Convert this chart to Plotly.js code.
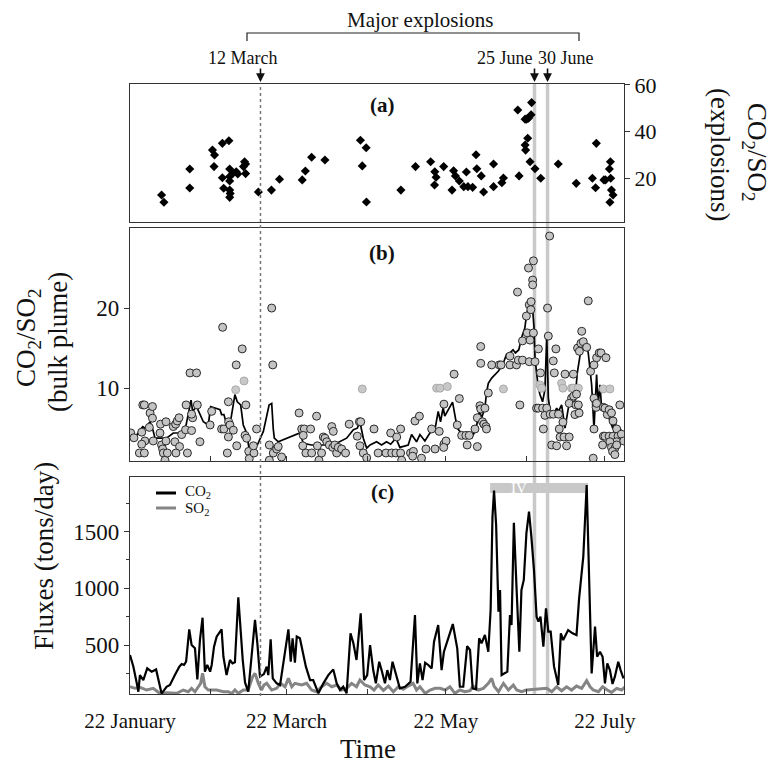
<!DOCTYPE html>
<html>
<head>
<meta charset="utf-8">
<script src="https://cdn.plot.ly/plotly-3.0.1.min.js"></script>
<style>html,body{margin:0;padding:0;background:#fff;}#chart{width:773px;height:766px;}</style>
</head>
<body>
<div id="chart"></div>
<script>
// Time axis: days after 22 January (leap year calendar)
const monthTicks = [0, 31, 60, 91, 121, 152, 182];
const monthLabels = ['22 January', '', '22 March', '', '22 May', '', '22 July'];
const explosionDays = [50, 155, 160];
const explosionLabels = ['12 March', '25 June', '30 June'];
const phaseIV = [138, 175.5];

// (a) CO2/SO2 in explosions
const explT = [12.1,13.0,22.9,22.9,31.6,32.4,35.4,37.9,32.2,38.2,35.4,38.2,39.4,40.7,41.3,38.2,35.9,38.2,38.4,38.2,43.9,44.3,43.5,44.3,49.2,54.2,57.3,66.0,67.2,69.6,74.7,88.3,90.5,89.0,90.6,
 103.8,109.4,115.2,116.8,117.3,116.7,120.2,123.4,124.0,124.7,126.2,127.9,128.9,129.5,131.3,132.6,132.9,134.6,135.5,139.3,139.3,142.5,143.1,148.6,149.1,151.4,152.0,152.7,153.9,153.7,152.4,151.4,151.6,153.3,155.2,157.4,164.1,171.0,177.2,178.7,178.4,181.6,182.2,184.1,183.7,184.2,184.5,185.1,183.9];
const explV = [12.7,9.6,23.9,15.7,32.0,29.9,34.9,36.0,24.9,23.9,20.1,20.6,22.0,22.7,21.7,18.7,15.6,14.8,13.4,11.7,27.0,26.0,24.9,21.9,14.0,14.8,19.5,19.2,23.0,28.9,27.75,36.2,33.0,25.2,9.7,
 14.8,24.9,27.0,22.7,20.3,17.0,24.9,14.8,23.1,20.9,18.7,16.3,22.6,16.3,16.0,30.0,24.0,20.9,14.0,26.0,16.3,18.0,20.0,49.25,20.9,45.3,45.3,45.7,52.4,47.2,37.1,34.2,32.0,27.0,24.0,19.9,26.0,17.7,19.9,34.9,15.8,19.2,19.2,27.0,23.9,19.9,14.8,12.7,9.6];

// (b) CO2/SO2 bulk plume: individual measurements
const bulkT = [0.3,1.5,4.9,5.5,7.7,8.6,8.6,4.5,5.7,4.5,3.6,5.5,7.4,8.9,11.5,11.7,13.8,12.1,12.5,12.8,13.4,14.3,13.8,16.6,17.5,18.1,18.8,17.2,19.0,17.6,22.0,19.8,21.3,23.6,23.0,25.5,21.5,25.8,24.0,23.6,26.8,30.7,31.3,35.5,35.1,36.0,37.3,37.8,38.3,37.7,39.6,37.7,40.7,43.0,40.9,44.4,44.1,44.7,45.5,45.7,47.5,47.3,48.5,53.4,53.4,54.3,54.7,54.9,56.2,56.8,58.1,64.8,65.8,66.8,69.2,66.4,66.2,67.4,69.6,71.5,71.8,72.4,73.4,74.1,74.7,75.4,77.3,77.9,76.4,77.7,78.5,79.2,79.8,81.1,82.6,84.0,87.1,87.9,88.4,88.1,89.4,90.7,93.5,95.1,
 98.1,100.3,101.9,103.7,104.1,99.9,102.2,103.7,107.5,108.6,108.3,111.7,109.2,110.9,113.4,116.9,115.6,118.5,120.3,121.1,120.2,120.3,124.2,125.4,126.2,127.1,128.7,129.2,130.0,133.1,132.2,133.1,134.1,134.4,135.1,136.0,135.6,136.4,137.3,136.6,
 134.4,134.4,138.6,141.5,142.2,145.6,145.6,148.1,149.4,148.8,150.4,148.5,150.4,151.9,152.2,153.0,152.7,154.6,154.3,154.3,153.7,153.6,153.3,154.6,153.0,156.5,155.2,157.3,155.8,156.5,158.1,158.4,159.0,159.7,160.0,160.8,160.3,162.2,163.2,162.6,
 161.0,162.2,164.2,161.6,163.5,164.5,164.8,166.3,167.3,168.3,165.9,166.7,169.9,169.2,170.0,171.1,168.3,170.9,170.5,172.1,171.8,173.1,171.5,172.2,172.8,173.7,175.0,175.6,176.5,177.8,178.8,179.8,180.5,182.4,
 177.8,178.6,178.8,177.8,181.4,182.0,182.9,183.6,184.5,185.1,187.7,186.5,181.4,182.0,183.6,185.1,187.0,186.5,188.3,189.2,181.1,183.9,184.5,185.8,184.9,185.8,186.5,177.5];
const bulkV = [4.4,3.8,7.9,7.9,6.9,6.25,7.7,4.5,3.4,3.0,1.9,1.9,5.1,3.4,4.4,5.5,5.8,2.9,2.4,1.9,1.0,1.9,3.4,5.2,5.5,5.9,6.3,3.3,2.7,1.9,1.9,4.2,4.8,4.7,11.9,11.9,7.9,7.9,6.3,6.75,3.3,5.4,7.1,17.6,4.9,4.9,1.9,5.8,5.4,3.9,4.75,8.3,12.9,14.9,2.8,7.9,4.1,3.75,2.1,1.2,1.9,2.8,4.9,2.9,1.0,20.0,12.9,1.9,2.4,2.7,1.4,6.9,4.9,4.9,4.9,4.1,2.8,1.9,1.9,6.5,2.8,1.0,1.9,3.9,3.75,3.3,5.2,4.6,2.9,2.6,2.9,1.9,2.6,2.4,1.9,5.5,4.0,5.8,5.8,2.8,1.9,1.3,4.9,1.9,
 1.9,1.9,1.9,1.9,1.0,4.4,3.9,4.9,1.9,2.1,1.5,1.25,5.9,6.5,2.4,2.4,4.9,4.6,3.0,3.4,2.6,8.0,11.75,5.4,8.7,4.1,4.1,2.9,4.1,2.7,4.9,6.3,7.8,7.4,5.8,7.5,5.5,5.2,9.4,4.9,
 15.2,13.1,12.9,12.9,12.9,12.9,14.0,12.9,7.9,13.5,13.5,22.0,15.9,19.0,16.9,20.4,25.0,25.9,23.5,22.9,20.8,19.8,16.0,16.9,13.3,14.9,13.3,11.9,7.5,7.5,7.5,4.9,6.6,7.5,20.0,29.0,16.5,13.4,14.9,11.9,
 6.75,6.75,6.75,2.9,2.8,4.9,3.9,3.9,2.8,3.9,5.75,11.75,11.75,8.75,9.0,9.25,8.1,7.9,6.7,6.9,7.9,17.1,15.0,14.6,15.6,15.8,15.1,20.9,12.1,12.9,13.8,14.4,14.4,13.8,
 8.75,7.6,8.1,4.9,7.6,7.5,6.7,7.3,6.9,5.9,7.9,4.9,4.0,4.0,4.0,4.0,4.0,3.3,4.25,3.4,2.9,3.3,2.6,2.5,2.1,1.7,2.9,1.25];
// (b) lighter symbols
const lightT = [40.5,43.7,89.0,117.5,118.8,121.6,143.1,157.1,157.7,165.4,165.9,169.2,169.9,171.8,181.4,183.9];
const lightV = [9.8,10.9,9.9,10.0,10.0,10.2,9.9,10.4,10.0,10.6,10.0,10.0,10.0,10.0,9.9,9.9];
// (b) running average line
const avgT = [0,1.9,3.8,4.9,5.7,7.7,8.6,9.6,11.5,14.0,16.6,19.8,21.5,22.3,23.4,24.0,25.5,28.1,30.0,30.9,34.5,35.1,36.0,36.8,37.3,38.3,39.6,40.2,41.1,42.4,43.4,44.7,45.5,47.5,48.8,51.1,53.3,54.3,54.9,55.3,56.8,65.1,66.4,69.6,72.8,77.9,83.0,85.6,87.1,88.1,89.4,90.7,
 92.0,94.5,96.4,98.3,99.9,101.9,103.4,106.6,107.9,109.8,111.1,113.0,114.9,116.9,118.1,119.0,120.0,120.6,123.6,125.4,126.4,129.0,130.9,132.6,133.9,134.7,136.0,136.6,137.3,138.6,141.1,142.8,144.3,145.6,146.8,147.7,149.0,150.0,151.3,151.9,153.0,153.6,153.9,154.3,154.8,155.2,155.8,156.5,157.1,158.1,159.0,159.7,160.3,161.0,162.9,163.5,164.2,165.4,166.7,168.0,168.6,169.2,170.5,171.4,172.7,173.7,174.7,175.6,176.2,176.9,177.8,178.2,178.8,179.4,180.1,180.7,181.4,182.0,182.9,183.6,184.5,185.1,185.8,186.7,187.7,188.7,189.2];
const avgV = [4.6,3.75,4.8,5.2,5.0,5.8,5.0,3.75,3.75,3.75,4.4,4.4,5.4,6.7,8.5,7.1,7.7,5.8,5.4,7.7,7.3,6.7,6.7,5.75,4.9,5.4,8.3,9.2,8.3,7.9,5.4,4.4,2.7,2.7,2.9,4.6,7.9,8.1,4.9,3.75,3.3,4.4,3.1,2.9,2.9,2.9,3.75,4.8,5.0,5.8,3.75,2.5,
 2.9,3.3,2.9,3.3,3.0,3.75,2.6,2.9,4.2,3.3,4.2,3.4,4.4,4.9,7.1,5.8,7.6,6.5,8.25,5.0,4.6,3.75,3.75,4.9,7.3,6.25,7.5,9.4,10.6,11.25,12.1,12.9,14.25,14.4,14.8,14.4,14.8,16.25,17.5,19.0,20.8,21.25,20.4,19.8,17.7,13.8,11.9,10.0,9.2,8.3,9.8,16.5,8.75,7.1,7.1,7.5,7.1,7.9,5.0,7.3,8.75,8.3,8.5,11.9,14.6,15.8,15.6,14.4,12.1,10.4,4.9,8.3,11.7,7.9,10.4,7.6,8.0,6.7,7.1,6.2,5.4,4.9,6.25,3.75,5.0,4.4,3.75];

// (c) fluxes (tons/day)
const co2T = [0,1.3,2.6,3.2,3.8,5.1,6.6,8.3,10.0,12.1,14.0,15.3,17.2,18.9,19.8,20.7,21.5,22.7,23.6,24.9,25.8,26.8,27.8,28.7,29.6,30.7,31.3,32.2,33.2,35.1,35.8,37.0,38.3,39.3,40.2,41.5,43.2,44.1,45.3,46.6,47.9,48.8,49.8,51.3,52.4,53.0,53.9,54.7,55.2,56.2,57.5,58.7,60.7,61.6,62.3,63.2,63.9,65.1,66.2,67.4,69.0,70.2,72.2,74.1,76.0,77.9,79.2,80.5,81.7,83.0,84.5,85.6,86.8,88.4,89.7,90.9,
 92.0,93.2,94.2,95.5,96.4,97.7,98.6,99.6,100.6,101.9,103.4,105.4,107.5,109.2,110.1,111.1,112.1,113.1,114.3,115.6,116.5,118.1,119.4,120.3,122.0,123.7,125.4,126.4,127.7,129.2,130.3,131.3,132.6,133.8,134.7,136.0,137.3,138.2,138.9,139.5,140.3,141.2,141.8,142.4,144.6,145.6,146.2,147.1,148.1,149.2,150.0,150.9,151.9,152.9,153.8,154.8,155.8,156.5,157.3,158.4,159.4,160.3,161.2,162.5,164.1,165.1,166.0,167.9,169.6,171.1,172.1,173.7,175.0,176.0,176.9,178.2,179.0,180.1,181.1,182.0,182.9,183.9,184.9,185.8,187.1,188.0,189.1];
const co2V = [412,309,162,88,235,191,294,265,285,72,132,147,235,309,332,324,353,638,500,471,197,544,741,265,324,265,324,485,574,638,397,235,368,338,347,921,368,168,88,397,721,515,221,244,309,235,550,206,191,162,147,338,638,353,559,344,574,559,441,309,191,191,74,162,235,285,162,103,132,74,603,515,368,779,191,235,
 500,279,162,353,279,162,279,191,353,235,118,132,176,765,162,338,191,344,324,294,529,676,279,441,559,685,471,132,132,491,456,118,109,559,515,588,441,815,1632,1862,1559,794,985,235,265,765,676,1579,1015,441,985,1074,1485,1676,1456,1162,750,706,750,485,824,618,618,309,147,603,544,632,603,588,912,1279,1912,1015,250,662,397,441,397,162,338,279,156,221,353,279,206];
const so2T = [0,1.9,3.8,6.4,8.9,11.5,14.0,17.9,20.4,22.3,23.6,24.9,26.2,27.1,27.8,28.7,30.0,33.2,35.8,37.7,39.0,40.2,41.5,43.4,45.3,47.0,47.9,49.2,50.4,51.3,52.4,54.3,56.2,57.7,59.4,60.7,62.0,63.2,65.8,67.7,69.6,71.5,73.4,75.4,77.3,79.2,81.1,83.0,84.9,86.8,88.1,90.0,
 92.0,93.5,95.1,97.1,99.0,100.9,102.8,104.7,106.6,108.5,109.8,111.1,113.1,115.0,116.9,118.8,120.8,122.6,124.5,126.4,128.3,130.3,131.5,133.5,135.4,137.3,138.6,139.5,141.2,143.1,145.0,146.9,148.2,150.0,151.9,154.5,157.1,159.7,161.6,163.5,165.4,167.3,169.2,171.1,173.1,175.0,176.3,177.5,179.5,181.1,182.9,184.5,186.5,188.4,189.7];
const so2V = [132,118,126,103,118,72,78,74,103,88,118,88,132,162,250,132,103,103,88,88,72,103,74,103,103,221,250,162,103,147,162,103,118,162,132,206,132,162,147,162,103,88,132,162,132,147,103,118,162,132,191,147,
 132,103,147,100,138,88,132,109,138,162,103,132,74,103,118,118,103,132,74,103,88,97,138,103,118,162,206,138,88,162,103,147,103,88,103,109,109,118,88,132,97,132,103,138,118,185,132,103,88,132,103,82,118,103,132];

const W = 773, H = 766;
const px = v => v / W, py = v => (H - v) / H;
const FONT = 'Liberation Serif';
const xDom = [px(130), px(624)];
const xRange = [0, 189.3];

const traces = [
  {x: explT, y: explV, xaxis: 'x3', yaxis: 'y3', mode: 'markers', type: 'scatter',
   marker: {symbol: 'diamond', size: 7, color: '#000'}, hoverinfo: 'x+y'},
  {x: avgT, y: avgV, xaxis: 'x2', yaxis: 'y2', mode: 'lines', type: 'scatter',
   line: {color: '#000', width: 1.7}},
  {x: lightT, y: lightV, xaxis: 'x2', yaxis: 'y2', mode: 'markers', type: 'scatter',
   marker: {symbol: 'circle', size: 8, color: '#c8c8c8', line: {color: '#aaaaaa', width: 1}}},
  {x: bulkT, y: bulkV, xaxis: 'x2', yaxis: 'y2', mode: 'markers', type: 'scatter',
   marker: {symbol: 'circle', size: 8, color: '#c4c4c4', line: {color: '#2a2a2a', width: 1}}},
  {x: so2T, y: so2V, xaxis: 'x', yaxis: 'y', mode: 'lines', type: 'scatter', name: 'SO2',
   line: {color: '#858585', width: 3}},
  {x: co2T, y: co2V, xaxis: 'x', yaxis: 'y', mode: 'lines', type: 'scatter', name: 'CO2',
   line: {color: '#000', width: 2.2}}
];

const axBase = {domain: xDom, range: xRange, showgrid: false, zeroline: false, showline: true,
  mirror: true, linecolor: '#333', linewidth: 1.2, tickvals: monthTicks, fixedrange: true};
const yBase = {showgrid: false, zeroline: false, showline: true, mirror: true, linecolor: '#333',
  linewidth: 1.2, ticks: 'outside', ticklen: 5, tickcolor: '#333', fixedrange: true,
  tickfont: {family: FONT, size: 23, color: '#111'}};

const shapes = [];
// vertical markers for explosions
explosionDays.forEach((d, i) => {
  if (i === 0) {
    shapes.push({type: 'line', xref: 'x', yref: 'paper', x0: d, x1: d, y0: py(696), y1: py(84),
      line: {color: '#777', width: 1.5, dash: 'dot'}, layer: 'above'});
  } else {
    shapes.push({type: 'line', xref: 'x', yref: 'paper', x0: d, x1: d, y0: py(694), y1: py(84),
      line: {color: '#c9c9c9', width: 3.5}, layer: 'below'});
  }
});
// phase IV bar
shapes.push({type: 'rect', xref: 'x', yref: 'paper', x0: phaseIV[0], x1: phaseIV[1], y0: py(493), y1: py(483),
  fillcolor: '#c8c8c8', line: {width: 0}, layer: 'below'});
// bracket above
shapes.push({type: 'path', xref: 'paper', yref: 'paper',
  path: `M ${px(247)} ${py(41)} L ${px(247)} ${py(33)} L ${px(579)} ${py(33)} L ${px(579)} ${py(41)}`,
  line: {color: '#222', width: 1.2}});
// legend samples
shapes.push({type: 'line', xref: 'paper', yref: 'paper', x0: px(156), x1: px(176), y0: py(493), y1: py(493), line: {color: '#000', width: 3}});
shapes.push({type: 'line', xref: 'paper', yref: 'paper', x0: px(156), x1: px(176), y0: py(508), y1: py(508), line: {color: '#858585', width: 3}});

const ann = [];
const txt = (text, x, y, size, opts) => Object.assign({text: text, xref: 'paper', yref: 'paper', x: px(x), y: py(y),
  showarrow: false, xanchor: 'center', yanchor: 'middle', font: {family: FONT, size: size, color: '#111'}}, opts || {});
ann.push(txt('Major explosions', 420, 20, 21));
const labelPos = [242, 505, 566];
explosionLabels.forEach((l, i) => ann.push(txt(l, labelPos[i], 58, 18)));
explosionDays.forEach(d => ann.push({text: '', xref: 'x3', yref: 'paper', x: d, y: py(82), ax: 0, ay: -15,
  showarrow: true, arrowhead: 2, arrowsize: 1.1, arrowwidth: 1.6, arrowcolor: '#111'}));
ann.push(txt('<b>(a)</b>', 382, 105, 21));
ann.push(txt('<b>(b)</b>', 382, 253, 21));
ann.push(txt('<b>(c)</b>', 382, 492, 21));
ann.push({text: 'IV', xref: 'x', yref: 'paper', x: 149, y: py(488), showarrow: false,
  font: {family: FONT, size: 15, color: '#fff'}});
ann.push(txt('CO<sub>2</sub>', 183, 492, 15, {xanchor: 'left'}));
ann.push(txt('SO<sub>2</sub>', 183, 509, 15, {xanchor: 'left'}));
ann.push(txt('CO<sub>2</sub>/SO<sub>2</sub>', 28, 338, 27, {textangle: -90}));
ann.push(txt('(bulk plume)', 58, 342, 27, {textangle: -90}));
ann.push(txt('Fluxes (tons/day)', 44, 556, 27, {textangle: -90}));
ann.push(txt('Time', 368, 749, 27));
ann.push(txt('CO<sub>2</sub>/SO<sub>2</sub>', 755, 152, 27, {textangle: 90}));
ann.push(txt('(explosions)', 720, 154, 27, {textangle: 90}));

const layout = {
  width: W, height: H, autosize: false, showlegend: false,
  margin: {l: 0, r: 0, t: 0, b: 0, pad: 0},
  paper_bgcolor: '#fff', plot_bgcolor: 'rgba(0,0,0,0)',
  font: {family: FONT, color: '#111'},
  xaxis: Object.assign({}, axBase, {anchor: 'y', ticktext: monthLabels, ticks: 'inside', ticklen: 5,
    tickcolor: '#333', ticklabelstandoff: 8, tickfont: {family: FONT, size: 21, color: '#111'}}),
  xaxis2: Object.assign({}, axBase, {anchor: 'y2', ticks: 'inside', ticklen: 5, tickcolor: '#333', showticklabels: false}),
  xaxis3: Object.assign({}, axBase, {anchor: 'y3', ticks: '', showticklabels: false}),
  yaxis: Object.assign({}, yBase, {domain: [py(694), py(477)], range: [68, 1982], tickvals: [500, 1000, 1500],
    minor: {tickvals: [250, 750, 1250, 1750], ticks: 'outside', ticklen: 3, tickcolor: '#333'}}),
  yaxis2: Object.assign({}, yBase, {domain: [py(461), py(228)], range: [0.9, 30], tickvals: [10, 20]}),
  yaxis3: Object.assign({}, yBase, {domain: [py(222), py(84)], range: [1.1, 60.4], tickvals: [20, 40, 60], side: 'right',
    tickfont: {family: FONT, size: 22, color: '#111'}}),
  shapes: shapes, annotations: ann
};

Plotly.newPlot('chart', traces, layout, {staticPlot: true, displayModeBar: false});
</script>
</body>
</html>
